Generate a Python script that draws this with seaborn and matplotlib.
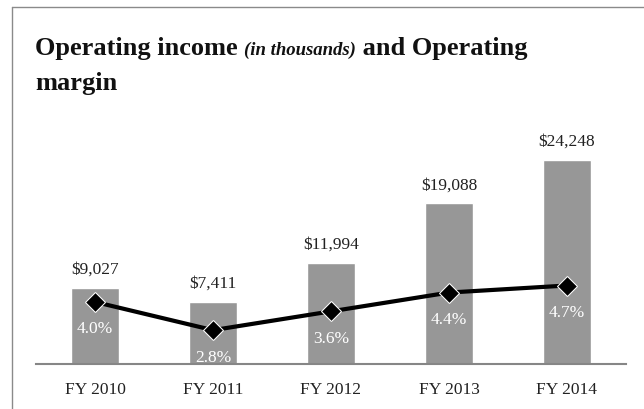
import numpy as np
import pandas as pd
import matplotlib
matplotlib.use('Agg')
import matplotlib.pyplot as plt
import seaborn as sns
from matplotlib.lines import Line2D


years = ['FY 2010', 'FY 2011', 'FY 2012', 'FY 2013', 'FY 2014']
income = [9027, 7411, 11994, 19088, 24248]
margin = [4.0, 2.8, 3.6, 4.4, 4.7]

BAR_GREY = '#979797'
AXIS_GREY = '#868686'


def main():
    sns.set_style('white')
    plt.rcParams['font.family'] = ['Liberation Serif', 'DejaVu Serif']

    df = pd.DataFrame({'year': years, 'income': income, 'margin': margin})

    fig = plt.figure(figsize=(6.44, 4.10), dpi=100)
    ax = fig.add_axes([36 / 644, 1 - 365 / 410, 590 / 644, 235.5 / 410])

    sns.barplot(x='year', y='income', data=df, color=BAR_GREY, width=0.41,
                saturation=1, ax=ax)
    ax.set_ylim(0, 28000)
    ax.set_xlim(-0.5, 4.5)
    ax.set_xlabel('')
    ax.set_ylabel('')
    ax.set_yticks([])
    sns.despine(ax=ax, left=True, top=True, right=True)
    ax.spines['bottom'].set_color(AXIS_GREY)
    ax.spines['bottom'].set_linewidth(1.5)
    ax.set_xticks(np.arange(-0.5, 5, 1), minor=True)
    ax.tick_params(axis='x', which='major', length=0, labelsize=12.5,
                   pad=12, labelcolor='#222222')
    ax.tick_params(axis='x', which='minor', length=6, width=1.2,
                   color=AXIS_GREY, direction='out')

    for i, v in enumerate(income):
        ax.annotate('${:,}'.format(v), (i, v), xytext=(0, 8),
                    textcoords='offset points', ha='center', va='bottom',
                    fontsize=12.5, color='#222222')

    # margin on its own scale, over the bars
    ax2 = ax.twinx()
    sns.lineplot(x=np.arange(len(margin)), y=margin, ax=ax2, color='black',
                 linewidth=3, marker='D', markersize=10.5, sort=False)
    ax2.set_ylim(1.36, 11.38)
    ax2.set_yticks([])
    ax2.set_ylabel('')
    for s in ax2.spines.values():
        s.set_visible(False)
    for i, m in enumerate(margin):
        ax2.annotate('{:.1f}%'.format(m), (i, m), xytext=(0, -19),
                     textcoords='offset points', ha='center', va='center',
                     fontsize=12.5, color='white')

    # title with italic aside, pieced together
    renderer = fig.canvas.get_renderer()
    x0, y0 = 35 / 644, 1 - 55 / 410
    t1 = fig.text(x0, y0, 'Operating income ', fontsize=19,
                  fontweight='bold', color='#111111')
    bb = t1.get_window_extent(renderer)
    t2 = fig.text(bb.x1 / 644, y0, '(in thousands)', fontsize=13.5,
                  fontweight='bold', style='italic', color='#111111')
    bb = t2.get_window_extent(renderer)
    fig.text(bb.x1 / 644, y0, ' and Operating', fontsize=19,
             fontweight='bold', color='#111111')
    fig.text(x0, 1 - 90 / 410, 'margin', fontsize=19, fontweight='bold',
             color='#111111')

    # frame around the chart, running off the right and bottom edges
    fig.add_artist(Line2D([12 / 644, 12 / 644], [1 - 8 / 410, -0.1],
                          transform=fig.transFigure, color='#8a8a8a', lw=1))
    fig.add_artist(Line2D([12 / 644, 1.1], [1 - 8 / 410, 1 - 8 / 410],
                          transform=fig.transFigure, color='#8a8a8a', lw=1))

    fig.savefig('out.png', dpi=100, facecolor='white')


if __name__ == '__main__':
    main()
